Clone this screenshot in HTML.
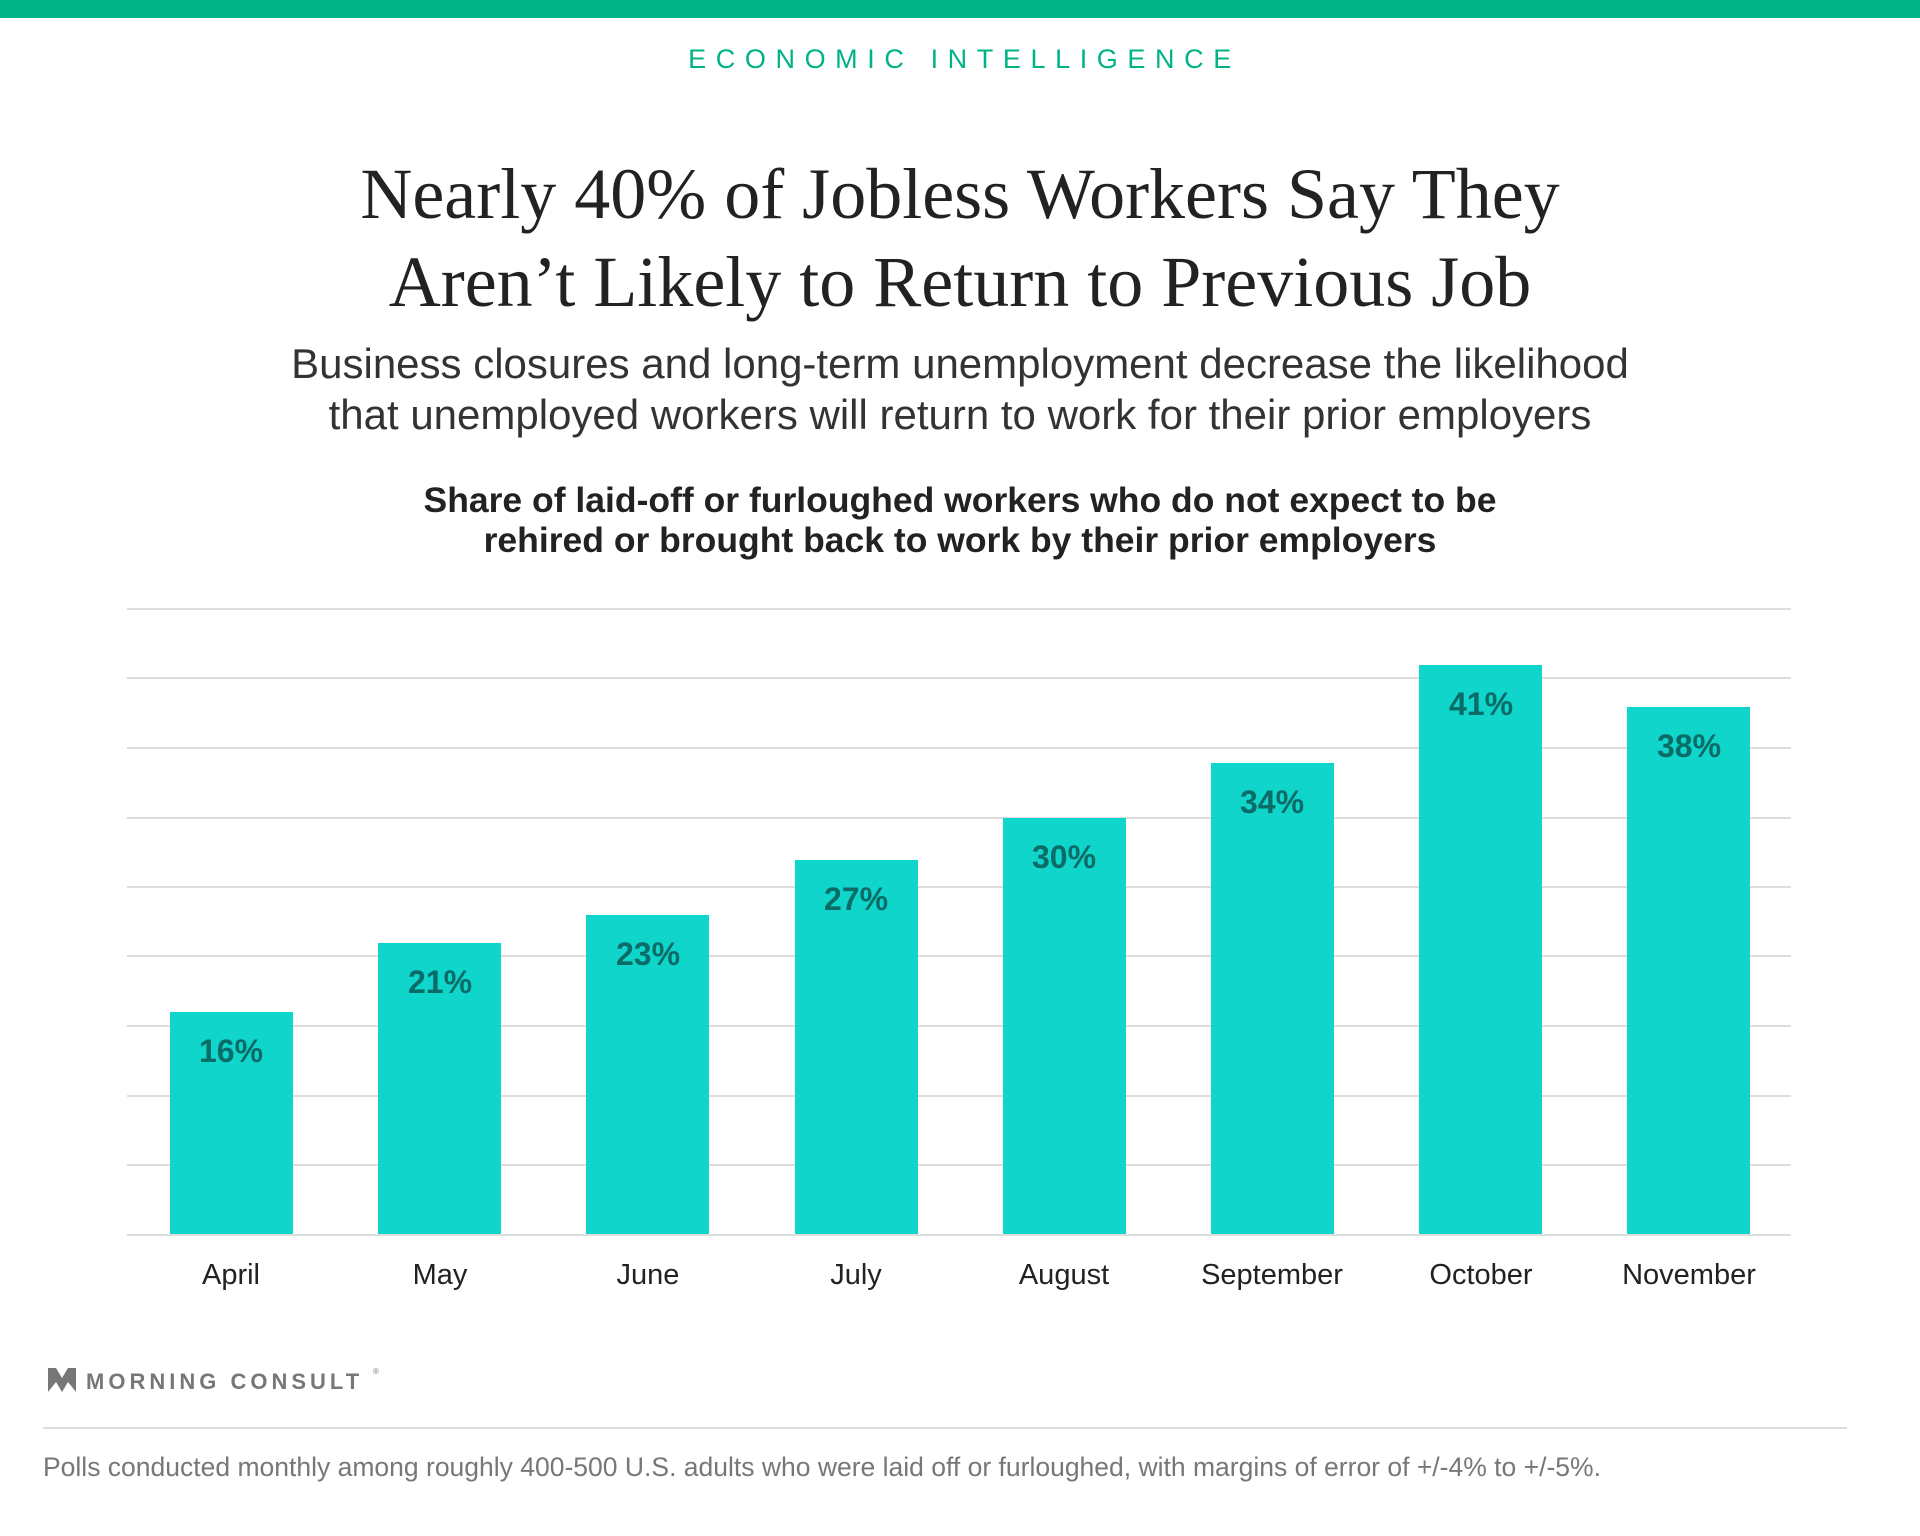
<!DOCTYPE html>
<html><head><meta charset="utf-8"><style>
body{margin:0;width:1920px;height:1536px;background:#fff;position:relative;overflow:hidden;font-family:"Liberation Sans",sans-serif}
.a{position:absolute;white-space:nowrap}
.c{left:0;width:1920px;text-align:center}
</style></head><body>
<div class="a" style="left:0;top:0;width:1920px;height:18px;background:#00b386"></div>
<div class="a c" style="top:44px;font-size:27px;letter-spacing:9.6px;color:#00b386;padding-left:9px;box-sizing:border-box">ECONOMIC INTELLIGENCE</div>
<div class="a c" style="top:150px;font-family:'Liberation Serif',serif;font-size:72px;line-height:88px;color:#222;letter-spacing:0px">Nearly 40% of Jobless Workers Say They<br>Aren’t Likely to Return to Previous Job</div>
<div class="a c" style="top:338px;font-size:42px;line-height:51px;color:#333">Business closures and long-term unemployment decrease the likelihood<br>that unemployed workers will return to work for their prior employers</div>
<div class="a c" style="top:480px;font-size:35.5px;line-height:40px;font-weight:bold;color:#222">Share of laid-off or furloughed workers who do not expect to be<br>rehired or brought back to work by their prior employers</div>
<svg class="a" style="left:0;top:0" width="1920" height="1536">
<g stroke="#ddd" stroke-width="2">
<line x1="127" x2="1791" y1="609" y2="609"/><line x1="127" x2="1791" y1="678" y2="678"/><line x1="127" x2="1791" y1="748" y2="748"/><line x1="127" x2="1791" y1="818" y2="818"/><line x1="127" x2="1791" y1="887" y2="887"/><line x1="127" x2="1791" y1="956" y2="956"/><line x1="127" x2="1791" y1="1026" y2="1026"/><line x1="127" x2="1791" y1="1096" y2="1096"/><line x1="127" x2="1791" y1="1165" y2="1165"/><line x1="127" x2="1791" y1="1235" y2="1235"/>
</g>
<g fill="#0fd5ca">
<rect x="170" y="1012" width="123" height="222"/>
<rect x="378" y="943" width="123" height="291"/>
<rect x="586" y="915" width="123" height="319"/>
<rect x="795" y="860" width="123" height="374"/>
<rect x="1003" y="818" width="123" height="416"/>
<rect x="1211" y="763" width="123" height="471"/>
<rect x="1419" y="665" width="123" height="569"/>
<rect x="1627" y="707" width="123" height="527"/>
</g>
<g fill="#0b6b66" font-weight="bold" font-size="32" text-anchor="middle" font-family="Liberation Sans">
<text x="231" y="1062">16%</text><text x="440" y="993">21%</text><text x="648" y="965">23%</text><text x="856" y="910">27%</text><text x="1064" y="868">30%</text><text x="1272" y="813">34%</text><text x="1481" y="715">41%</text><text x="1689" y="757">38%</text>
</g>
<g fill="#222" font-size="29" text-anchor="middle" font-family="Liberation Sans">
<text x="231" y="1284">April</text><text x="440" y="1284">May</text><text x="648" y="1284">June</text><text x="856" y="1284">July</text><text x="1064" y="1284">August</text><text x="1272" y="1284">September</text><text x="1481" y="1284">October</text><text x="1689" y="1284">November</text>
</g>
<path d="M48 1368 L56 1368 L62 1378 L68 1368 L76 1368 L76 1392 L68 1382 L62 1392 L56 1382 L48 1392 Z" fill="#777"/>
<text x="86" y="1389" font-size="22" font-weight="bold" fill="#777" letter-spacing="4" font-family="Liberation Sans">MORNING CONSULT</text>
<text x="373" y="1374" font-size="8" fill="#777">®</text>
<line x1="43" x2="1847" y1="1428" y2="1428" stroke="#ddd" stroke-width="2"/>
<text x="43" y="1476" font-size="26.5" fill="#777" font-family="Liberation Sans">Polls conducted monthly among roughly 400-500 U.S. adults who were laid off or furloughed, with margins of error of +/-4% to +/-5%.</text>
</svg>
</body></html>
